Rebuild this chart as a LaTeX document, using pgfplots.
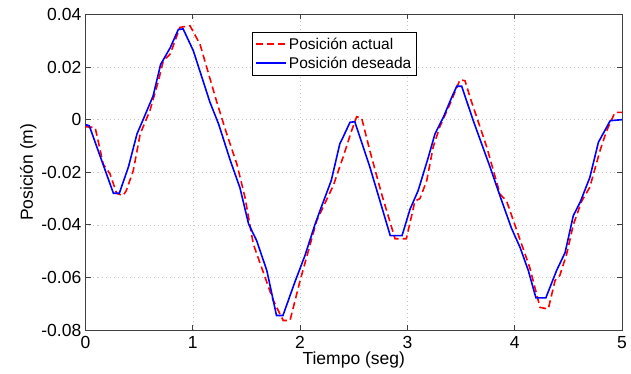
\documentclass[border=0pt]{standalone}
\usepackage{pgfplots}
\pgfplotsset{compat=1.18}
\usepackage{fontspec}
\setmainfont{Liberation Sans}
\begin{document}
\begin{tikzpicture}
\path[use as bounding box] (-85.5pt,-43pt) rectangle (545.5pt,330pt);
\begin{axis}[
  scale only axis,
  width=536.5pt, height=315.5pt,
  xmin=0, xmax=5, ymin=-0.08, ymax=0.04,
  scaled x ticks=false, scaled y ticks=false,
  xtick={0,1,2,3,4,5},
  xticklabels={0,1,2,3,4,5},
  ytick={-0.08,-0.06,-0.04,-0.02,0,0.02,0.04},
  yticklabels={-0.08,-0.06,-0.04,-0.02,0,0.02,0.04},
  tick align=inside,
  xtick pos=both, ytick pos=both,
  major tick length=5pt,
  tick style={black!75, line width=0.8pt},
  axis line style={black!75, line width=1pt},
  grid=major,
  major grid style={dash pattern=on 1pt off 3pt, black!22, line width=0.6pt},
  tick label style={font=\fontsize{17.5}{20}\selectfont},
  xticklabel style={anchor=north, inner sep=0pt, yshift=-6pt},
  yticklabel style={anchor=east, inner sep=0pt, xshift=-4pt},
  label style={font=\fontsize{17.5}{20}\selectfont},
  xlabel={Tiempo (seg)},
  ylabel={Posición (m)},
  xlabel style={at={(axis description cs:0.5,-0.1109)}, anchor=base},
  ylabel style={at={(axis description cs:-0.0979,0.5)}, anchor=base},
  legend style={at={(0.3103,0.945)}, anchor=north west, draw=black, line width=0.8pt,
    font=\fontsize{15.5}{18}\selectfont, inner xsep=3pt, inner ysep=3.5pt, row sep=2pt},
  legend cell align=left,
  legend image code/.code={\draw[#1] (0pt,0pt) -- (30pt,0pt);},
]
\addplot[red, line width=1.6pt, dash pattern=on 7pt off 4pt] coordinates {
(0,-0.0027) (0.09,-0.003) (0.166,-0.017) (0.228,-0.0206) (0.29,-0.028) (0.35,-0.0289)
(0.38,-0.027) (0.445,-0.0194) (0.51,-0.0054) (0.60,0.0034) (0.68,0.0148) (0.725,0.0224)
(0.79,0.025) (0.88,0.0351) (0.974,0.0357) (1.067,0.0287) (1.22,0.0072) (1.316,-0.0054)
(1.41,-0.0168) (1.486,-0.0295) (1.564,-0.0473) (1.75,-0.0688) (1.843,-0.0764) (1.906,-0.0764)
(2.0,-0.0612) (2.06,-0.0524) (2.155,-0.0384) (2.25,-0.0302) (2.31,-0.0250) (2.40,-0.0143)
(2.48,-0.0042) (2.527,0.0011) (2.574,0.0006) (2.65,-0.0118) (2.76,-0.0283) (2.885,-0.0453)
(2.99,-0.0453) (3.07,-0.031) (3.117,-0.030) (3.18,-0.0232) (3.24,-0.0105) (3.30,-0.0029)
(3.41,0.0072) (3.49,0.0152) (3.537,0.0148) (3.584,0.0085) (3.74,-0.0105) (3.863,-0.0283)
(3.925,-0.031) (4.02,-0.0422) (4.14,-0.0562) (4.236,-0.0714) (4.313,-0.072) (4.376,-0.0612)
(4.42,-0.0593) (4.485,-0.051) (4.546,-0.040) (4.624,-0.031) (4.70,-0.0257) (4.795,-0.0118)
(4.857,-0.0042) (4.935,0.0028) (5.0,0.0028)
};
\addlegendentry{Posición actual}
\addplot[blue, line width=1.6pt] coordinates {
(0,-0.0019) (0.035,-0.0023) (0.26,-0.028) (0.315,-0.028) (0.40,-0.018) (0.48,-0.0054)
(0.54,0.0003) (0.63,0.009) (0.70,0.021) (0.79,0.0274) (0.865,0.0343) (0.91,0.0345)
(1.005,0.0262) (1.16,0.0066) (1.24,-0.0016) (1.35,-0.0156) (1.44,-0.026) (1.52,-0.0397)
(1.595,-0.046) (1.69,-0.0574) (1.78,-0.0745) (1.84,-0.0745) (1.95,-0.0619) (2.045,-0.0517)
(2.14,-0.0397) (2.20,-0.0330) (2.29,-0.0232) (2.37,-0.0092) (2.40,-0.0067) (2.465,-0.001)
(2.51,-0.0008) (2.65,-0.018) (2.745,-0.031) (2.84,-0.0441) (2.95,-0.0441) (3.025,-0.034)
(3.10,-0.027) (3.195,-0.0143) (3.257,-0.0054) (3.335,0.0009) (3.413,0.0085) (3.46,0.0127)
(3.506,0.0127) (3.614,-0.0004) (3.77,-0.018) (3.88,-0.031) (3.97,-0.0413) (4.05,-0.0486)
(4.127,-0.0574) (4.198,-0.0678) (4.29,-0.0678) (4.39,-0.0574) (4.47,-0.0505) (4.546,-0.0365)
(4.61,-0.0314) (4.70,-0.022) (4.78,-0.0086) (4.89,-0.0004) (5.0,0)
};
\addlegendentry{Posición deseada}
\end{axis}
\end{tikzpicture}
\end{document}
